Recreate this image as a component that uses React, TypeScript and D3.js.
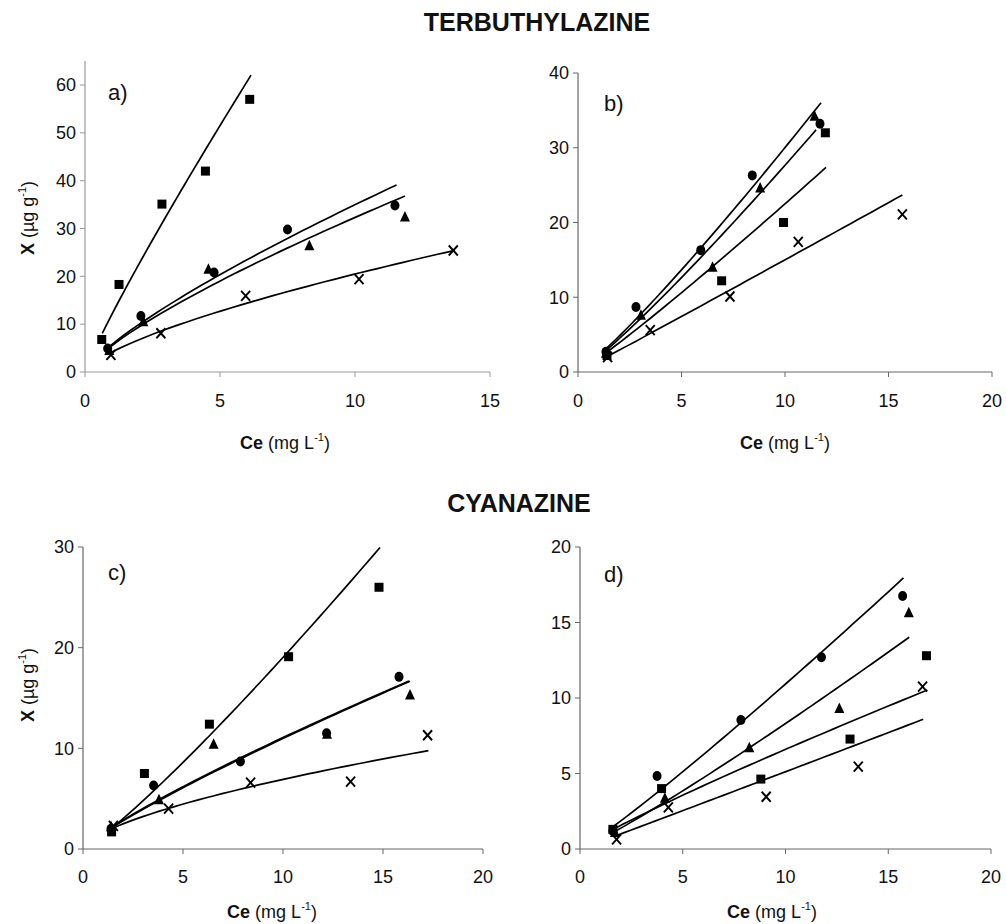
import React from "react";
import * as d3 from "d3";

// ---------- data ----------
type Pt = [number, number];

// Panel a) TERBUTHYLAZINE
const aCircle: Pt[] = [[0.84, 4.9], [2.07, 11.7], [4.78, 20.8], [7.5, 29.8], [11.48, 34.8]];
const aTriangle: Pt[] = [[0.9, 4.5], [2.16, 10.5], [4.57, 21.5], [8.31, 26.4], [11.85, 32.4]];
const aSquare: Pt[] = [[0.62, 6.8], [1.26, 18.3], [2.85, 35.1], [4.46, 42.0], [6.1, 57.0]];
const aCross: Pt[] = [[0.96, 3.6], [2.81, 8.1], [5.95, 15.9], [10.15, 19.4], [13.64, 25.4]];

// Panel b) TERBUTHYLAZINE
const bCircle: Pt[] = [[1.35, 2.7], [2.8, 8.7], [5.93, 16.3], [8.42, 26.3], [11.69, 33.2]];
const bTriangle: Pt[] = [[1.35, 2.5], [3.04, 7.6], [6.5, 14.0], [8.8, 24.6], [11.43, 34.2]];
const bSquare: Pt[] = [[1.4, 2.2], [6.94, 12.2], [9.93, 20.0], [11.95, 32.0]];
const bCross: Pt[] = [[1.43, 2.0], [3.49, 5.6], [7.34, 10.1], [10.64, 17.4], [15.67, 21.1]];

// Panel c) CYANAZINE
const cCircle: Pt[] = [[1.4, 2.0], [3.53, 6.3], [7.87, 8.7], [12.18, 11.5], [15.8, 17.1]];
const cTriangle: Pt[] = [[1.4, 2.2], [3.8, 4.9], [6.53, 10.4], [12.2, 11.4], [16.35, 15.3]];
const cSquare: Pt[] = [[1.43, 1.7], [3.07, 7.5], [6.32, 12.4], [10.28, 19.1], [14.8, 26.0]];
const cCross: Pt[] = [[1.52, 2.3], [4.28, 4.0], [8.38, 6.6], [13.38, 6.7], [17.23, 11.3]];

// Panel d) CYANAZINE
const dCircle: Pt[] = [[1.6, 1.2], [3.75, 4.83], [7.83, 8.54], [11.75, 12.7], [15.7, 16.75]];
const dTriangle: Pt[] = [[1.7, 1.1], [4.13, 3.36], [8.24, 6.71], [12.62, 9.3], [16.0, 15.65]];
const dSquare: Pt[] = [[1.6, 1.3], [3.97, 4.0], [8.8, 4.63], [13.14, 7.28], [16.86, 12.8]];
const dCross: Pt[] = [[1.78, 0.64], [4.3, 2.75], [9.06, 3.46], [13.54, 5.45], [16.67, 10.75]];

// Freundlich fits X = K * Ce^n drawn from x0 to x1
type Fit = { K: number; n: number; x0: number; x1: number };
const aFits: Fit[] = [
  { K: 5.79, n: 0.781, x0: 0.85, x1: 11.54 },
  { K: 5.55, n: 0.765, x0: 0.85, x1: 11.85 },
  { K: 12.1, n: 0.9, x0: 0.64, x1: 6.15 },
  { K: 4.19, n: 0.689, x0: 0.93, x1: 13.7 },
];
const bFits: Fit[] = [
  { K: 2.2, n: 1.135, x0: 1.3, x1: 11.74 },
  { K: 2.05, n: 1.13, x0: 1.3, x1: 11.5 },
  { K: 1.85, n: 1.085, x0: 1.3, x1: 11.98 },
  { K: 1.45, n: 1.015, x0: 1.35, x1: 15.67 },
];
const cFits: Fit[] = [
  { K: 1.6, n: 0.84, x0: 1.4, x1: 16.3 },
  { K: 1.55, n: 0.85, x0: 1.4, x1: 16.35 },
  { K: 1.36, n: 1.146, x0: 1.3, x1: 14.85 },
  { K: 1.61, n: 0.633, x0: 1.4, x1: 17.27 },
];
const dFits: Fit[] = [
  { K: 0.88, n: 1.094, x0: 1.6, x1: 15.74 },
  { K: 0.645, n: 1.11, x0: 1.65, x1: 16.02 },
  { K: 0.85, n: 0.89, x0: 1.7, x1: 16.9 },
  { K: 0.5, n: 1.01, x0: 1.78, x1: 16.7 },
];

const aXTicks = [0, 5, 10, 15];
const aYTicks = [0, 10, 20, 30, 40, 50, 60];
const bXTicks = [0, 5, 10, 15, 20];
const bYTicks = [0, 10, 20, 30, 40];
const cXTicks = [0, 5, 10, 15, 20];
const cYTicks = [0, 10, 20, 30];
const dXTicks = [0, 5, 10, 15, 20];
const dYTicks = [0, 5, 10, 15, 20];

const titles = ["TERBUTHYLAZINE", "CYANAZINE"];
const panelLabels = ["a)", "b)", "c)", "d)"];

// ---------- layout ----------
const FONT = "Arial, 'Liberation Sans', Helvetica, sans-serif";

type PanelCfg = {
  label: string;
  circle: Pt[]; triangle: Pt[]; square: Pt[]; cross: Pt[];
  fits: Fit[];
  xTicks: number[]; yTicks: number[];
  xDomain: [number, number]; yDomain: [number, number]; yMaxAxis: number;
  xRange: [number, number]; yRange: [number, number];
  axisColor: string;
  labelPos: [number, number];
  xTitleX: number;
  xTitleY: number;
  tickOffset: number;
};

const panels: PanelCfg[] = [
  {
    label: panelLabels[0], circle: aCircle, triangle: aTriangle, square: aSquare, cross: aCross, fits: aFits,
    xTicks: aXTicks, yTicks: aYTicks, xDomain: [0, 15], yDomain: [0, 60], yMaxAxis: 65,
    xRange: [85, 490], yRange: [372, 85], axisColor: "#9a9a9a", labelPos: [108, 100], xTitleX: 285,
    xTitleY: 449, tickOffset: 35,
  },
  {
    label: panelLabels[1], circle: bCircle, triangle: bTriangle, square: bSquare, cross: bCross, fits: bFits,
    xTicks: bXTicks, yTicks: bYTicks, xDomain: [0, 20], yDomain: [0, 40], yMaxAxis: 40,
    xRange: [578, 992], yRange: [372, 73], axisColor: "#666", labelPos: [604, 111], xTitleX: 785,
    xTitleY: 449, tickOffset: 35,
  },
  {
    label: panelLabels[2], circle: cCircle, triangle: cTriangle, square: cSquare, cross: cCross, fits: cFits,
    xTicks: cXTicks, yTicks: cYTicks, xDomain: [0, 20], yDomain: [0, 30], yMaxAxis: 30,
    xRange: [83, 483], yRange: [849, 547], axisColor: "#666", labelPos: [108, 580], xTitleX: 272,
    xTitleY: 918, tickOffset: 34,
  },
  {
    label: panelLabels[3], circle: dCircle, triangle: dTriangle, square: dSquare, cross: dCross, fits: dFits,
    xTicks: dXTicks, yTicks: dYTicks, xDomain: [0, 20], yDomain: [0, 20], yMaxAxis: 20,
    xRange: [580, 991], yRange: [849, 547], axisColor: "#666", labelPos: [604, 582], xTitleX: 772,
    xTitleY: 918, tickOffset: 34,
  },
];

function Panel({ p }: { p: PanelCfg }) {
  const x = d3.scaleLinear().domain(p.xDomain).range(p.xRange);
  const y = d3.scaleLinear().domain(p.yDomain).range(p.yRange);
  const x0 = x(0);
  const y0 = y(0);
  const line = d3.line<Pt>().x((d) => x(d[0])).y((d) => y(d[1]));

  const fitPath = (f: Fit) => {
    const pts: Pt[] = d3.range(0, 41).map((i) => {
      const c = f.x0 + ((f.x1 - f.x0) * i) / 40;
      return [c, f.K * Math.pow(c, f.n)];
    });
    return line(pts) || "";
  };

  const tickLabelY = y0 + p.tickOffset;
  return (
    <g>
      {/* axes */}
      <line x1={x0} x2={x0} y1={y0} y2={y(p.yMaxAxis)} stroke={p.axisColor} strokeWidth={1.2} />
      <line x1={x0} x2={x(p.xDomain[1])} y1={y0} y2={y0} stroke={p.axisColor} strokeWidth={1.2} />
      {p.yTicks.map((t) => (
        <g key={"y" + t}>
          <line x1={x0 - 5} x2={x0} y1={y(t)} y2={y(t)} stroke={p.axisColor} strokeWidth={1} />
          <text x={x0 - 9} y={y(t)} dy="0.35em" textAnchor="end" fontSize={18} fontFamily={FONT} fill="#111">
            {t}
          </text>
        </g>
      ))}
      {p.xTicks.map((t) => (
        <g key={"x" + t}>
          <line x1={x(t)} x2={x(t)} y1={y0} y2={y0 + 5} stroke={p.axisColor} strokeWidth={1} />
          <text x={x(t)} y={tickLabelY} textAnchor="middle" fontSize={18} fontFamily={FONT} fill="#111">
            {t}
          </text>
        </g>
      ))}
      {/* fitted lines */}
      {p.fits.map((f, i) => (
        <path key={"f" + i} d={fitPath(f)} fill="none" stroke="#000" strokeWidth={1.7} />
      ))}
      {/* points */}
      {p.square.map((d, i) => (
        <rect key={"s" + i} x={x(d[0]) - 4.5} y={y(d[1]) - 4.5} width={9} height={9} fill="#000" />
      ))}
      {p.circle.map((d, i) => (
        <ellipse key={"c" + i} cx={x(d[0])} cy={y(d[1])} rx={4.5} ry={5} fill="#000" />
      ))}
      {p.triangle.map((d, i) => {
        const cx = x(d[0]);
        const cy = y(d[1]);
        return <path key={"t" + i} d={`M${cx},${cy - 6}L${cx + 5},${cy + 4.5}L${cx - 5},${cy + 4.5}Z`} fill="#000" />;
      })}
      {p.cross.map((d, i) => {
        const cx = x(d[0]);
        const cy = y(d[1]);
        return (
          <path key={"x" + i} d={`M${cx - 4.5},${cy - 5}L${cx + 4.5},${cy + 5}M${cx + 4.5},${cy - 5}L${cx - 4.5},${cy + 5}`}
            stroke="#000" strokeWidth={1.9} fill="none" />
        );
      })}
      {/* panel label */}
      <text x={p.labelPos[0]} y={p.labelPos[1]} fontSize={22} fontFamily={FONT} fill="#111">{p.label}</text>
      {/* x title */}
      <text x={p.xTitleX} y={p.xTitleY} textAnchor="middle" fontSize={18} fontFamily={FONT} fill="#111">
        <tspan fontWeight="bold">Ce</tspan>
        <tspan> (mg L</tspan>
        <tspan fontSize={11} dy={-8}>-1</tspan>
        <tspan dy={8}>)</tspan>
      </text>
    </g>
  );
}

function YTitle({ cx, cy }: { cx: number; cy: number }) {
  return (
    <text transform={`translate(${cx},${cy}) rotate(-90)`} textAnchor="middle" fontSize={18} fontFamily={FONT} fill="#111">
      <tspan fontWeight="bold">X</tspan>
      <tspan> (µg g</tspan>
      <tspan fontSize={11} dy={-8}>-1</tspan>
      <tspan dy={8}>)</tspan>
    </text>
  );
}

export default function App() {
  return (
    <svg width={1006} height={924} style={{ position: "absolute", left: 0, top: 0, background: "#fff" }}>
      <rect x={0} y={0} width={1006} height={924} fill="#fff" />
      <text x={537} y={31} textAnchor="middle" fontSize={25} fontWeight="bold" fontFamily={FONT} fill="#111">{titles[0]}</text>
      <text x={519} y={512} textAnchor="middle" fontSize={25} fontWeight="bold" fontFamily={FONT} fill="#111">{titles[1]}</text>
      {panels.map((p, i) => (
        <Panel key={i} p={p} />
      ))}
      <YTitle cx={34} cy={218} />
      <YTitle cx={34} cy={685} />
    </svg>
  );
}
